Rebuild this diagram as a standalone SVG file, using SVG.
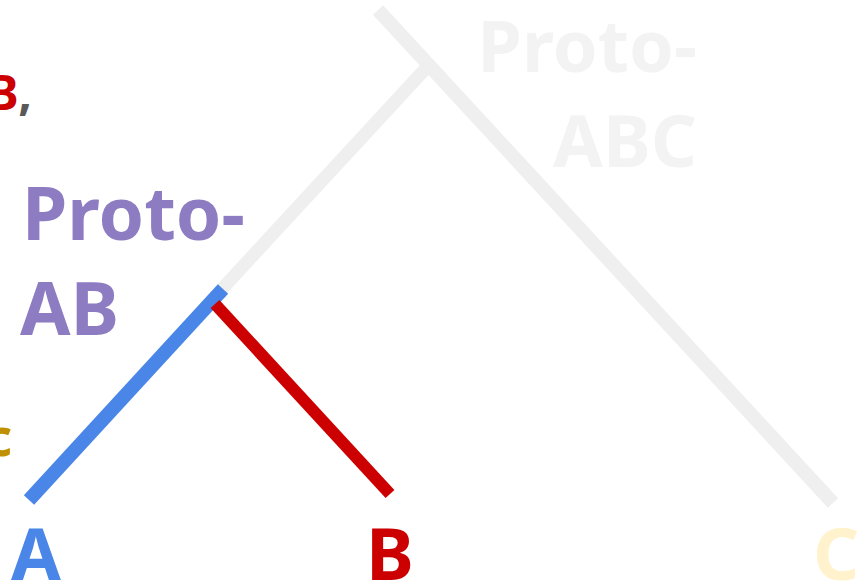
<svg xmlns="http://www.w3.org/2000/svg" width="868" height="584" viewBox="0 0 868 584">
<style>
text{font-family:"Noto Sans","Open Sans",sans-serif;font-weight:bold}
.br{fill:none;stroke-linecap:butt}
</style>
<rect width="868" height="584" fill="#ffffff"/>
<g id="connectors">
<line class="br" x1="378" y1="10" x2="833" y2="503" stroke="#efefef" stroke-width="14"/>
<line class="br" x1="428" y1="66" x2="222" y2="289" stroke="#efefef" stroke-width="13"/>
<line class="br" x1="223" y1="289" x2="29" y2="500" stroke="#4a86e8" stroke-width="14"/>
<line class="br" x1="215" y1="304" x2="390" y2="494" stroke="#cc0000" stroke-width="12"/>
</g>
<g id="proto-abc"><text font-size="72" fill="#f3f3f3" text-anchor="end"><tspan x="697" y="72">Proto-</tspan><tspan x="697" y="167">ABC</tspan></text></g>
<g id="proto-ab"><text font-size="73" fill="#8e7cc3"><tspan x="22" y="240">Proto-</tspan><tspan x="20" y="335">AB</tspan></text></g>
<g id="a"><text x="36" y="580" font-size="72" fill="#4a86e8" text-anchor="middle">A</text></g>
<g id="b"><text x="390" y="580" font-size="72" fill="#cc0000" text-anchor="middle">B</text></g>
<g id="c"><text x="836" y="580" font-size="72" fill="#fff2cc" text-anchor="middle">C</text></g>
<g id="top-left"><text x="32" y="110" font-size="48" text-anchor="end"><tspan fill="#cc0000">B</tspan><tspan fill="#595959">,</tspan></text></g>
<g id="left-c"><text x="12" y="456" font-size="52" fill="#bf9000" text-anchor="end">c</text></g>
</svg>
